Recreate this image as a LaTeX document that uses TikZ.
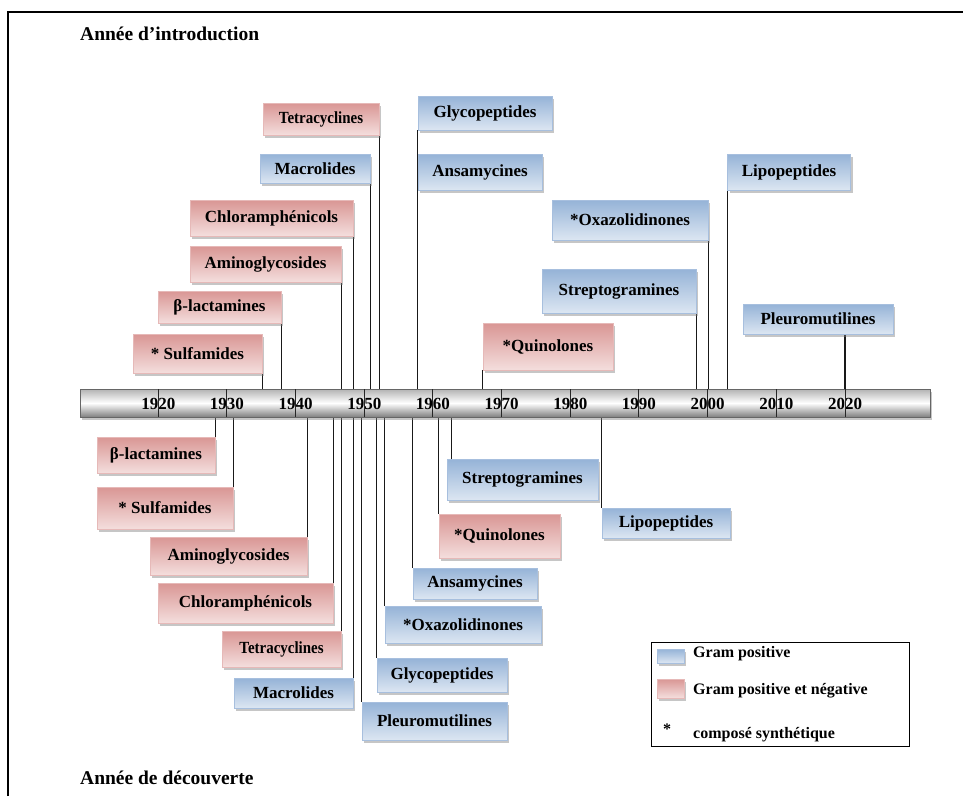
\documentclass[tikz,border=0pt]{standalone}
\usepackage{fontspec}
\usepackage{graphicx}
\setmainfont{Liberation Serif}
\usetikzlibrary{shadows,backgrounds}
\definecolor{bluedark}{HTML}{95B3D7}
\definecolor{bluelight}{HTML}{DCE6F2}
\definecolor{blueline}{HTML}{A7BFDE}
\definecolor{reddark}{HTML}{D99694}
\definecolor{redlight}{HTML}{F4DEDD}
\definecolor{redline}{HTML}{E6B9B8}
\begin{document}
\begin{tikzpicture}[x=1pt,y=-1pt,
    sz/.style 2 args={minimum width=#1pt,minimum height=#2pt},
    lbl/.style={inner sep=0pt,font=\fontsize{17}{19}\selectfont\bfseries,
        drop shadow={shadow xshift=2pt,shadow yshift=-2.5pt,opacity=0.45}},
    bluebox/.style={lbl,draw=blueline,line width=0.6pt,top color=bluedark,bottom color=bluelight},
    redbox/.style={lbl,draw=redline,line width=0.6pt,top color=reddark,bottom color=redlight},
    link/.style={line width=1.4pt,black!90},
    year/.style={inner sep=0pt,font=\fontsize{17}{19}\selectfont\bfseries},
    keytext/.style={inner sep=0pt,font=\fontsize{16}{18}\selectfont\bfseries},
    title/.style={inner sep=0pt,font=\fontsize{19.5}{22}\selectfont\bfseries}]
    \useasboundingbox (0,0) rectangle (963,796);
    \draw[line width=1.5pt] (8,796) -- (8,12) -- (963,12);
    \node[title,anchor=west] (intro) at (80,34) {Année d’introduction};
    \node[title,anchor=west] (decouv) at (80,778) {Année de découverte};
    % axe du temps
    \node[draw=black!60,line width=0.8pt,sz={850}{28},top color=black!30,bottom color=black!50,middle color=white,
        drop shadow={shadow xshift=2pt,shadow yshift=-2.5pt,opacity=0.45}] (bar) at (505,403) {};
    \foreach \yr [count=\i from 0] in {1920,1930,...,2020} {
        \node[year] (y\yr) at (158.3+68.67*\i,404) {\yr};
        \draw[line width=1pt,black!85] (158.3+68.67*\i,389) -- ++(0,28);
    }
    % introduction
    \node[redbox,sz={129}{39}] (sulfT) at (197.5,353.5) {* Sulfamides};
    \node[redbox,sz={123}{32}] (betaT) at (219.5,307) {β-lactamines};
    \node[redbox,sz={151}{36}] (aminoT) at (265.5,264) {Aminoglycosides};
    \node[redbox,sz={163}{36}] (chloT) at (271.5,218) {Chloramphénicols};
    \node[bluebox,sz={110}{29}] (macroT) at (315,168.5) {Macrolides};
    \node[redbox,sz={116}{32}] (tetraT) at (321,119) {\scalebox{0.88}[1]{Tetracyclines}};
    \node[bluebox,sz={134}{34}] (glycoT) at (485,113) {Glycopeptides};
    \node[bluebox,sz={124}{36}] (ansaT) at (480,172) {Ansamycines};
    \node[bluebox,sz={156}{40}] (oxaT) at (630,220) {*Oxazolidinones};
    \node[bluebox,sz={154}{44}] (streptoT) at (619,291) {Streptogramines};
    \node[redbox,sz={130}{47}] (quinoT) at (548,346.5) {*Quinolones};
    \node[bluebox,sz={123}{36}] (lipoT) at (789,172) {Lipopeptides};
    \node[bluebox,sz={150}{30}] (pleuroT) at (818,319) {Pleuromutilines};
    % découverte
    \node[redbox,sz={118}{36}] (betaB) at (156,455) {β-lactamines};
    \node[redbox,sz={136}{42}] (sulfB) at (165,508) {* Sulfamides};
    \node[redbox,sz={157}{38}] (aminoB) at (228.5,556) {Aminoglycosides};
    \node[redbox,sz={175}{40}] (chloB) at (245.5,603) {Chloramphénicols};
    \node[redbox,sz={119}{36}] (tetraB) at (281.5,649) {\scalebox{0.88}[1]{Tetracyclines}};
    \node[bluebox,sz={119}{30}] (macroB) at (293.5,693) {Macrolides};
    \node[bluebox,sz={145}{38}] (pleuroB) at (434.5,721) {Pleuromutilines};
    \node[bluebox,sz={130}{34}] (glycoB) at (442,675) {Glycopeptides};
    \node[bluebox,sz={156}{37}] (oxaB) at (463,624.5) {*Oxazolidinones};
    \node[bluebox,sz={124}{31}] (ansaB) at (475,583.5) {Ansamycines};
    \node[redbox,sz={121}{44}] (quinoB) at (499.5,536) {*Quinolones};
    \node[bluebox,sz={151}{41}] (streptoB) at (522.5,479.5) {Streptogramines};
    \node[bluebox,sz={128}{30}] (lipoB) at (666,523) {Lipopeptides};
    \begin{pgfonlayer}{background}
        \foreach \b in {sulfT,betaT,aminoT,chloT,macroT,tetraT,oxaT,streptoT}
            \draw[link] (\b.south east) -- (\b.south east |- bar.north);
        \foreach \b in {glycoT,quinoT,lipoT}
            \draw[link] (\b.south west) -- (\b.south west |- bar.north);
        \draw[link] ([xshift=27pt]pleuroT.south) -- ([xshift=27pt]pleuroT.south |- bar.north);
        \foreach \b in {betaB,sulfB,aminoB,chloB,tetraB,macroB}
            \draw[link] (\b.north east) -- (\b.north east |- bar.south);
        \foreach \b in {pleuroB,glycoB,oxaB,ansaB,quinoB,lipoB}
            \draw[link] (\b.north west) -- (\b.north west |- bar.south);
        \draw[link] ([xshift=5pt]streptoB.north west) -- ([xshift=5pt]streptoB.north west |- bar.south);
    \end{pgfonlayer}
    % légende
    \node[draw,line width=1pt,sz={258}{104}] (legend) at (780,694) {};
    \node[bluebox,sz={27}{14}] (keyA) at (670.5,656) {};
    \node[redbox,sz={27}{19}] (keyB) at (670.5,688.5) {};
    \node[keytext,anchor=west] (txtA) at (693,654) {Gram positive};
    \node[keytext,anchor=west] (txtB) at (693,691) {Gram positive et négative};
    \node[keytext] (star) at (667,729) {*};
    \node[keytext,anchor=west] (txtC) at (693,735) {composé synthétique};
\end{tikzpicture}
\end{document}
